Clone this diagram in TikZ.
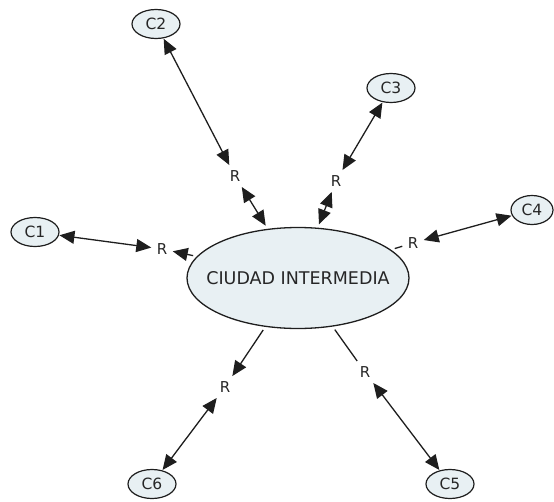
\documentclass[tikz,border=0pt]{standalone}
\usepackage{fontspec}
\setmainfont{DejaVu Sans}
\usetikzlibrary{arrows.meta,shapes.geometric}
\definecolor{nodefill}{RGB}{232,240,243}
\definecolor{edgecol}{RGB}{30,30,30}
\begin{document}
\begin{tikzpicture}[x=1pt,y=-1pt,
  cityel/.style={ellipse,draw=edgecol,line width=1.2pt,fill=nodefill,inner sep=0pt,
     minimum width=48pt,minimum height=29pt,font=\fontsize{15.5}{17}\selectfont,text=black!85,outer sep=1pt},
  mainel/.style={ellipse,draw=edgecol,line width=1.3pt,fill=nodefill,inner sep=0pt,
     minimum width=222pt,minimum height=101pt,font=\fontsize{17.5}{20}\selectfont,text=black!85,outer sep=4pt},
  rlab/.style={inner sep=2.5pt,outer sep=3pt,font=\fontsize{15}{17}\selectfont,text=black!85},
  conn/.style={draw=edgecol,line width=1.3pt},
  dbl/.style={conn,{Triangle[length=15pt,width=13pt]}-{Triangle[length=15pt,width=13pt]}},
  sgl/.style={conn,-{Triangle[length=15pt,width=13pt]}}
]
\useasboundingbox (0,0) rectangle (554,501);
\node[mainel] (ci) at (298,278) {\makebox[0pt]{CIUDAD INTERMEDIA}};
\node[cityel] (c1) at (35,232) {C1};
\node[cityel] (c2) at (156,24) {C2};
\node[cityel] (c3) at (391,88) {C3};
\node[cityel,minimum width=42pt] (c4) at (532,210) {C4};
\node[cityel] (c5) at (450,484) {C5};
\node[cityel] (c6) at (152,484) {C6};
\node[rlab] (r1) at (162,249) {R};
\node[rlab] (r2) at (235,176) {R};
\node[rlab] (r3) at (336,181) {R};
\node[rlab] (r4) at (413,243) {R};
\node[rlab] (r5) at (365,372) {R};
\node[rlab] (r6) at (225,387) {R};
\draw[sgl] (ci) -- (r1);
\draw[dbl] (r1) -- (c1);
\draw[dbl] (c2) -- (r2);
\draw[dbl] (r2) -- (ci);
\draw[dbl] (c3) -- (r3);
\draw[dbl] (r3) -- (ci);
\draw[conn] (ci) -- (r4);
\draw[dbl] (r4) -- (c4);
\draw[conn] (ci) -- (r5);
\draw[dbl] (r5) -- (c5);
\draw[sgl] (ci) -- (r6);
\draw[dbl] (r6) -- (c6);
\end{tikzpicture}
\end{document}
